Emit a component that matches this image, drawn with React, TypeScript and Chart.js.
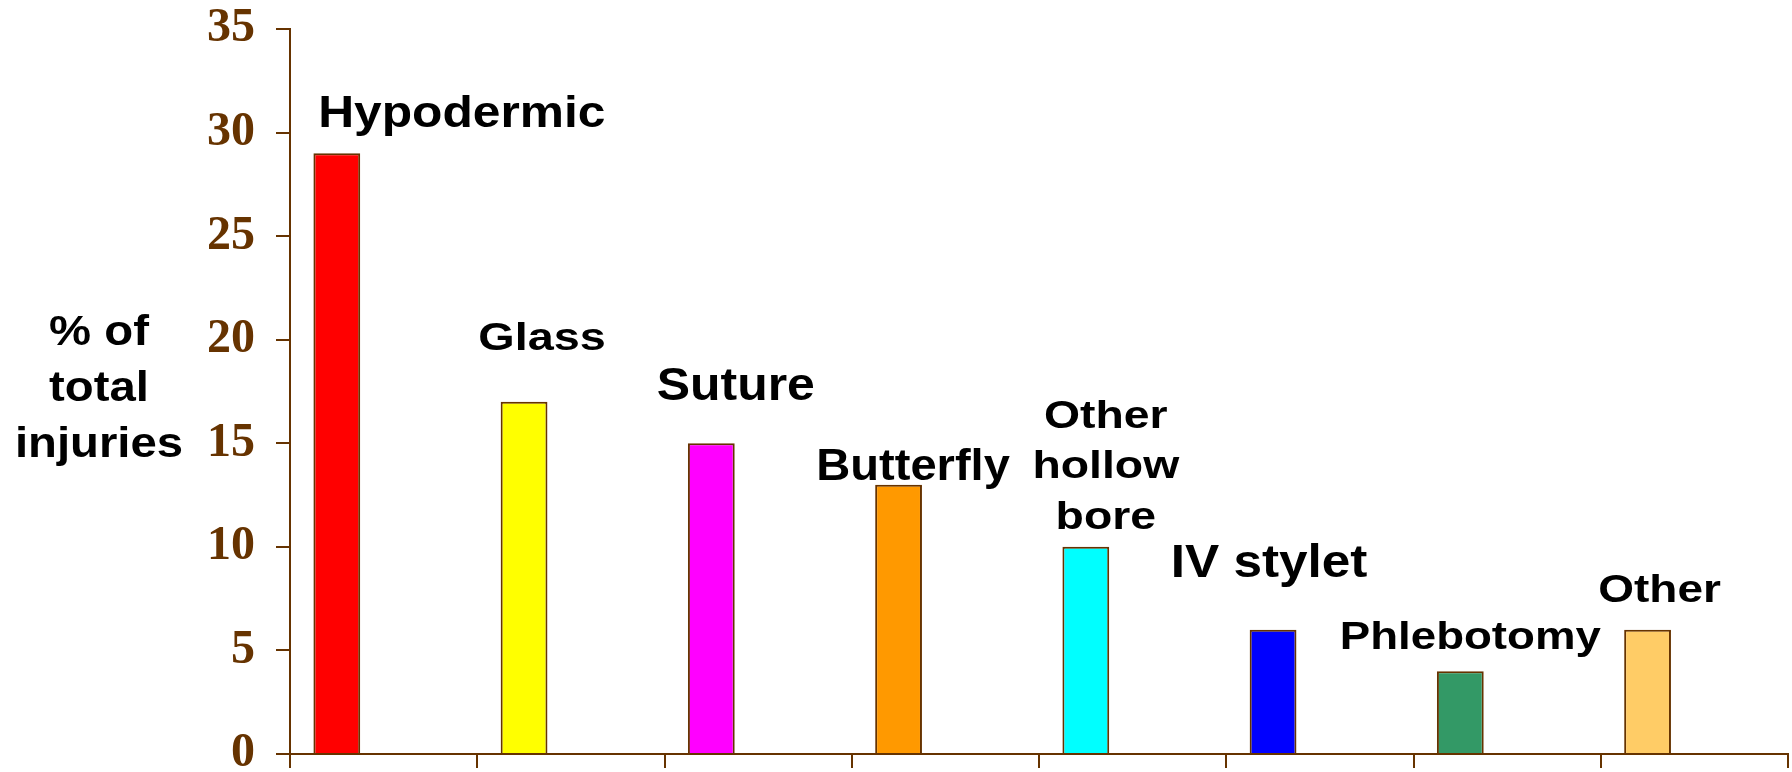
import React, { useEffect, useRef } from "react";
import { Chart, registerables } from "chart.js";

Chart.register(...registerables);

const categories = ["Hypodermic", "Glass", "Suture", "Butterfly", "Other hollow bore", "IV stylet", "Phlebotomy", "Other"];
const labelLines = [["Hypodermic"], ["Glass"], ["Suture"], ["Butterfly"], ["Other", "hollow", "bore"], ["IV stylet"], ["Phlebotomy"], ["Other"]];
const values = [29, 17, 15, 13, 10, 6, 4, 6];
const emptySeries = [null, null, null, null, null, null, null, null];
const barColors = ["#FF0000", "#FFFF00", "#FF00FF", "#FF9900", "#00FFFF", "#0000FF", "#339966", "#FFCC66"];
const yTicks = [0, 5, 10, 15, 20, 25, 30, 35];
const yTitleLines = ["% of", "total", "injuries"];

const BROWN = "#663300";

// label styling: font size, horizontal stretch, x nudge from bar centre, baseline offset above bar top
const labelStyles = [
  { size: 44, stretch: 1.13, dx: 125, dy: -26.6 },
  { size: 39, stretch: 1.2, dx: 18, dy: -52 },
  { size: 46, stretch: 1.085, dx: 24.5, dy: -43 },
  { size: 44, stretch: 1.07, dx: 14.5, dy: -4.7 },
  { size: 38, stretch: 1.22, dx: 20, dy: -18 },
  { size: 46, stretch: 1.115, dx: -4, dy: -53 },
  { size: 38, stretch: 1.2, dx: 10, dy: -22.5 },
  { size: 38, stretch: 1.21, dx: 12, dy: -28 },
];

const annotationPlugin = {
  id: "barAnnotations",
  afterDatasetsDraw(chart: any) {
    const ctx = chart.ctx;
    const meta = chart.getDatasetMeta(0);
    const area = chart.chartArea;
    ctx.save();
    ctx.fillStyle = "#000000";
    ctx.textAlign = "center";
    ctx.textBaseline = "alphabetic";
    meta.data.forEach((bar: any, i: number) => {
      const st = labelStyles[i];
      const lines = labelLines[i];
      const lh = 50.5;
      ctx.font = `bold ${st.size}px "Liberation Sans", Arial, sans-serif`;
      lines.forEach((ln: string, j: number) => {
        const y = bar.y + st.dy - (lines.length - 1 - j) * lh;
        ctx.save();
        ctx.translate(bar.x + st.dx, y);
        ctx.scale(st.stretch, 1);
        ctx.fillText(ln, 0, 0);
        ctx.restore();
      });
    });
    // y-axis title
    ctx.font = `bold 43px "Liberation Sans", Arial, sans-serif`;
    const tx = area.left - 191;
    yTitleLines.forEach((ln, j) => {
      const y = area.top + 316 + j * 56;
      ctx.save();
      ctx.translate(tx, y);
      ctx.scale(1.1, 1);
      ctx.fillText(ln, 0, 0);
      ctx.restore();
    });
    ctx.restore();
  },
};

export default function App() {
  const ref = useRef<HTMLCanvasElement | null>(null);
  useEffect(() => {
    if (!ref.current) return;
    const chart = new Chart(ref.current, {
      type: "bar",
      data: {
        labels: categories,
        datasets: [
          {
            data: values,
            backgroundColor: barColors,
            borderColor: BROWN,
            borderWidth: 2,
            categoryPercentage: 1,
            barPercentage: 0.5,
          },
          {
            data: emptySeries as any,
            backgroundColor: "#ffffff",
            categoryPercentage: 1,
            barPercentage: 0.5,
          },
        ],
      },
      options: {
        animation: false,
        responsive: false,
        layout: { padding: { left: 0, top: 29, right: 4, bottom: 0 } },
        plugins: { legend: { display: false }, tooltip: { enabled: false }, title: { display: false } },
        scales: {
          x: {
            offset: true,
            grid: {
              offset: true,
              drawOnChartArea: false,
              drawTicks: true,
              tickLength: 14,
              color: BROWN,
              lineWidth: 2,
            },
            border: { display: true, color: BROWN, width: 2 },
            ticks: { display: false },
            afterFit: (scale: any) => {
              scale.height = 18;
              scale.paddingLeft = 0;
              scale.paddingRight = 0;
            },
          },
          y: {
            min: 0,
            max: 35,
            afterBuildTicks: (scale: any) => {
              scale.ticks = yTicks.map((v) => ({ value: v }));
            },
            grid: {
              drawOnChartArea: false,
              drawTicks: true,
              tickLength: 14,
              color: BROWN,
              lineWidth: 2,
            },
            border: { display: true, color: BROWN, width: 2 },
            ticks: {
              color: BROWN,
              padding: 21,
              font: { family: '"Liberation Serif", "Times New Roman", serif', weight: "bold", size: 48, lineHeight: 0.6 },
            },
            afterFit: (scale: any) => {
              scale.width = 290;
              scale.paddingTop = 0;
              scale.paddingBottom = 0;
            },
          },
        },
      },
      plugins: [annotationPlugin],
    } as any);
    return () => chart.destroy();
  }, []);
  return (
    <div style={{ position: "fixed", left: 0, top: 0, width: 1792, height: 772, background: "#ffffff" }}>
      <canvas ref={ref} width={1792} height={772} style={{ display: "block", width: 1792, height: 772 }} />
    </div>
  );
}
